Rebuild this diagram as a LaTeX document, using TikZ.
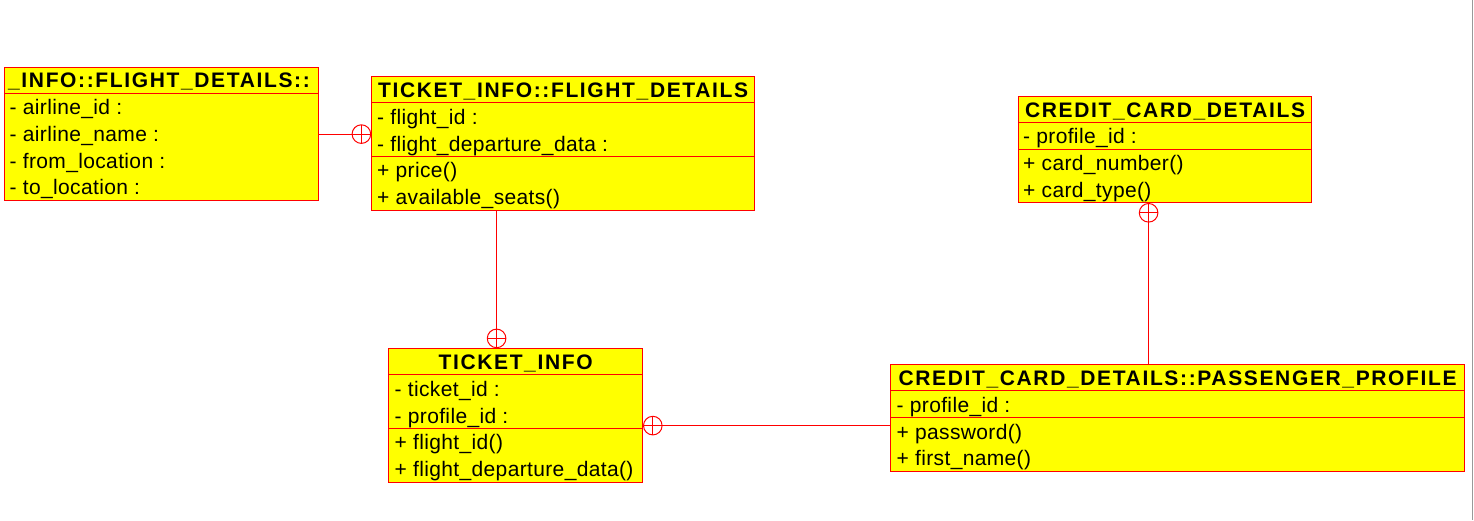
\documentclass[tikz,border=0pt]{standalone}
\usepackage{fontspec}
\setmainfont{Liberation Sans}[LetterSpace=1.7]
\newfontfamily\titlefont{Liberation Sans}[LetterSpace=7.8]
\usepackage{tikz}
\definecolor{umlyellow}{RGB}{255,255,0}
\definecolor{umlred}{RGB}{255,0,0}
\tikzstyle{classbox} = [rectangle, draw=umlred, fill=umlyellow, line width=1.2pt, anchor=north west, inner sep=0pt]
\tikzstyle{classtitle} = [inner sep=0pt, anchor=base, font=\titlefont\bfseries\fontsize{21}{25}\selectfont]
\tikzstyle{attr} = [inner sep=0pt, anchor=base west, font=\fontsize{21}{25}\selectfont]
\tikzstyle{sep} = [draw=umlred, line width=1pt]
\tikzstyle{rel} = [draw=umlred, line width=1pt]
\tikzstyle{onemark} = [circle, draw=umlred, line width=1pt, inner sep=0pt, minimum size=18.6pt,
path picture={\draw[umlred, line width=1pt] (path picture bounding box.north) -- (path picture bounding box.south);
\draw[umlred, line width=1pt] (path picture bounding box.west) -- (path picture bounding box.east);}]

\begin{document}
\begin{tikzpicture}[x=1pt,y=-1pt]
      \fill[white] (0,0) rectangle (1474,520);
      \useasboundingbox (0,0) rectangle (1474,520);

      % class boxes
      \node [classbox, minimum width=314pt, minimum height=133pt] (flightdet) at (4,67) {};
      \node [classbox, minimum width=383pt, minimum height=134pt] (tfdetails) at (371,76) {};
      \node [classbox, minimum width=254pt, minimum height=134pt] (ticket) at (388,348) {};
      \node [classbox, minimum width=574pt, minimum height=107pt] (passenger) at (890,364) {};
      \node [classbox, minimum width=293pt, minimum height=106pt] (card) at (1018,96) {};

      % compartments
      \path [sep] ([yshift=-26.5pt]flightdet.north west) -- ([yshift=-26.5pt]flightdet.north east);
      \path [sep] ([yshift=-26.75pt]tfdetails.north west) -- ([yshift=-26.75pt]tfdetails.north east);
      \path [sep] ([yshift=-80.75pt]tfdetails.north west) -- ([yshift=-80.75pt]tfdetails.north east);
      \path [sep] ([yshift=-26.75pt]ticket.north west) -- ([yshift=-26.75pt]ticket.north east);
      \path [sep] ([yshift=-80.25pt]ticket.north west) -- ([yshift=-80.25pt]ticket.north east);
      \path [sep] ([yshift=-26.75pt]passenger.north west) -- ([yshift=-26.75pt]passenger.north east);
      \path [sep] ([yshift=-53.5pt]passenger.north west) -- ([yshift=-53.5pt]passenger.north east);
      \path [sep] ([yshift=-26.25pt]card.north west) -- ([yshift=-26.25pt]card.north east);
      \path [sep] ([yshift=-53pt]card.north west) -- ([yshift=-53pt]card.north east);

      % titles
      \node [classtitle, anchor=base west] (flightdett) at ([xshift=4pt,yshift=-20.5pt]flightdet.north west) {\_INFO::FLIGHT\_DETAILS::};
      \node [classtitle] (tfdetailst) at ([yshift=-21pt]tfdetails.north) {TICKET\_INFO::FLIGHT\_DETAILS};
      \node [classtitle] (tickett) at ([yshift=-21pt]ticket.north) {TICKET\_INFO};
      \node [classtitle] (passengert) at ([yshift=-21.5pt]passenger.north) {CREDIT\_CARD\_DETAILS::PASSENGER\_PROFILE};
      \node [classtitle] (cardt) at ([yshift=-21pt]card.north) {CREDIT\_CARD\_DETAILS};

      % attributes and operations
      \node [attr] (fd1) at ([xshift=5.5pt,yshift=-47.5pt]flightdet.north west) {- airline\_id :};
      \node [attr] (fd2) at ([xshift=5.5pt,yshift=-74.25pt]flightdet.north west) {- airline\_name :};
      \node [attr] (fd3) at ([xshift=5.5pt,yshift=-101pt]flightdet.north west) {- from\_location :};
      \node [attr] (fd4) at ([xshift=5.5pt,yshift=-127.75pt]flightdet.north west) {- to\_location :};

      \node [attr] (tf1) at ([xshift=6pt,yshift=-48.25pt]tfdetails.north west) {- flight\_id :};
      \node [attr] (tf2) at ([xshift=6pt,yshift=-75pt]tfdetails.north west) {- flight\_departure\_data :};
      \node [attr] (tf3) at ([xshift=6pt,yshift=-101.75pt]tfdetails.north west) {+ price()};
      \node [attr] (tf4) at ([xshift=6pt,yshift=-128.5pt]tfdetails.north west) {+ available\_seats()};

      \node [attr] (ti1) at ([xshift=6.5pt,yshift=-48.25pt]ticket.north west) {- ticket\_id :};
      \node [attr] (ti2) at ([xshift=6.5pt,yshift=-75pt]ticket.north west) {- profile\_id :};
      \node [attr] (ti3) at ([xshift=6.5pt,yshift=-101.75pt]ticket.north west) {+ flight\_id()};
      \node [attr] (ti4) at ([xshift=6.5pt,yshift=-128.5pt]ticket.north west) {+ flight\_departure\_data()};

      \node [attr] (pp1) at ([xshift=6.5pt,yshift=-48.25pt]passenger.north west) {- profile\_id :};
      \node [attr] (pp2) at ([xshift=6.5pt,yshift=-75pt]passenger.north west) {+ password()};
      \node [attr] (pp3) at ([xshift=6.5pt,yshift=-101.75pt]passenger.north west) {+ first\_name()};

      \node [attr] (cc1) at ([xshift=5pt,yshift=-47.75pt]card.north west) {- profile\_id :};
      \node [attr] (cc2) at ([xshift=5pt,yshift=-74.5pt]card.north west) {+ card\_number()};
      \node [attr] (cc3) at ([xshift=5pt,yshift=-101.25pt]card.north west) {+ card\_type()};

      % relations
      \path [rel] (flightdet.east) -- (tfdetails.west |- flightdet.east);
      \node [onemark] (m1) at ([xshift=-9.6pt]tfdetails.west |- flightdet.east) {};

      \coordinate (c2) at ([xshift=-66.5pt]tfdetails.south);
      \path [rel] (c2) -- (c2 |- ticket.north);
      \node [onemark] (m2) at ([yshift=9.6pt]c2 |- ticket.north) {};

      \coordinate (c3) at ([yshift=-10pt]ticket.east);
      \path [rel] (c3) -- (passenger.west |- c3);
      \node [onemark] (m3) at ([xshift=9.6pt]c3) {};

      \coordinate (c4) at ([xshift=-16.5pt]card.south);
      \path [rel] (c4) -- (c4 |- passenger.north);
      \node [onemark] (m4) at ([yshift=-9.6pt]c4) {};

      % window edge
      \draw [gray!80, line width=1.5pt] (1472.5,0) -- (1472.5,520);
\end{tikzpicture}
\end{document}
